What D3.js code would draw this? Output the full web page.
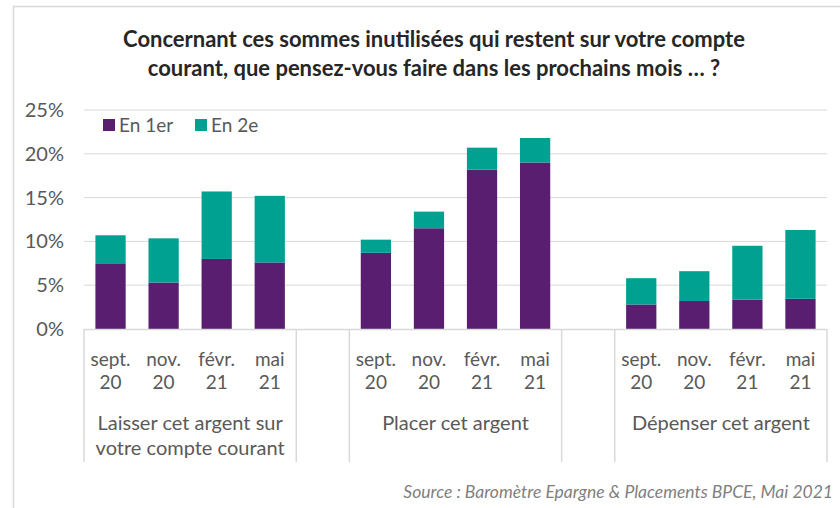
<!DOCTYPE html>
<html lang="fr">
<head>
  <meta charset="UTF-8">
  <title>Sommes inutilisées</title>
  <script src="https://cdn.jsdelivr.net/npm/d3@7/dist/d3.min.js"></script>
  <style>
    body { margin: 0; background: #fff; }
    text { font-family: Lato, "Open Sans", sans-serif; }
  </style>
</head>
<body>
  <svg id="chart" width="840" height="508"></svg>
  <script>
    // données
    const groups = ['Laisser cet argent sur|votre compte courant', 'Placer cet argent', 'Dépenser cet argent'];
    const months = ['sept.|20', 'nov.|20', 'févr.|21', 'mai|21'];
    const series = ['En 1er', 'En 2e'];
    const en1er = [
      [7.5, 5.3, 8.0, 7.6],
      [8.7, 11.5, 18.2, 19.0],
      [2.8, 3.2, 3.35, 3.45]
    ];
    const en2e = [
      [3.2, 5.05, 7.7, 7.6],
      [1.5, 1.9, 2.5, 2.8],
      [3.0, 3.4, 6.15, 7.85]
    ];
    const yTicks = [0, 5, 10, 15, 20, 25];
    const colors = ['#5a1e71', '#00a191'];

    const svg = d3.select('#chart');
    const plotLeft = 84, plotRight = 827, plotTop = 110, plotBottom = 329;

    // cadre
    svg.append('path')
      .attr('d', `M13.5 508 L13.5 6.5 L840 6.5`)
      .attr('fill', 'none')
      .attr('stroke', '#d9d9d9')
      .attr('stroke-width', 1.5);

    // titre
    const title = svg.append('text')
      .attr('text-anchor', 'middle')
      .attr('font-weight', 'bold')
      .attr('font-size', '22px')
      .attr('fill', '#262626');
    title.append('tspan').attr('x', 434).attr('y', 47)
      .text('Concernant ces sommes inutilisées qui restent sur votre compte');
    title.append('tspan').attr('x', 434).attr('y', 76)
      .text('courant, que pensez-vous faire dans les prochains mois … ?');

    // slots: 4 mois, vide, 4 mois, vide, 4 mois
    const slots = [];
    groups.forEach((g, gi) => {
      months.forEach((m, mi) => slots.push(`${gi}-${mi}`));
      if (gi < groups.length - 1) slots.push(`gap${gi}`);
    });

    const x = d3.scaleBand().domain(slots).range([plotLeft, plotRight]).padding(0);
    const y = d3.scaleLinear().domain([0, 25]).range([plotBottom, plotTop]);
    const barW = x.bandwidth() * 0.57;

    // grille
    svg.append('g')
      .selectAll('line')
      .data(yTicks.slice(1))
      .enter()
      .append('line')
      .attr('x1', plotLeft).attr('x2', plotRight)
      .attr('y1', d => y(d)).attr('y2', d => y(d))
      .attr('stroke', '#d9d9d9')
      .attr('stroke-width', 1);

    // axe y
    svg.append('g')
      .selectAll('text')
      .data(yTicks)
      .enter()
      .append('text')
      .attr('x', 64)
      .attr('y', d => y(d) + 7)
      .attr('text-anchor', 'end')
      .attr('font-size', '20px')
      .attr('fill', '#595959')
      .text(d => d + '%');

    // barres empilées
    const rows = [];
    groups.forEach((g, gi) => {
      months.forEach((m, mi) => {
        rows.push({ key: `${gi}-${mi}`, a: en1er[gi][mi], b: en2e[gi][mi] });
      });
    });
    const stack = d3.stack().keys(['a', 'b'])(rows);

    svg.append('g')
      .selectAll('g')
      .data(stack)
      .enter()
      .append('g')
      .attr('fill', (d, i) => colors[i])
      .selectAll('rect')
      .data(d => d)
      .enter()
      .append('rect')
      .attr('x', d => x(d.data.key) + (x.bandwidth() - barW) / 2)
      .attr('width', barW)
      .attr('y', d => y(d[1]))
      .attr('height', d => y(d[0]) - y(d[1]));

    // axe x multi-niveaux
    const axis = svg.append('g');
    axis.append('line')
      .attr('x1', plotLeft).attr('x2', plotRight)
      .attr('y1', plotBottom + 0.5).attr('y2', plotBottom + 0.5)
      .attr('stroke', '#d9d9d9').attr('stroke-width', 1.5);

    const seps = [plotLeft];
    groups.forEach((g, gi) => {
      if (gi < groups.length - 1) {
        seps.push(x(`gap${gi}`));
        seps.push(x(`gap${gi}`) + x.bandwidth());
      }
    });
    seps.push(plotRight);
    axis.selectAll('.sep')
      .data(seps)
      .enter()
      .append('line')
      .attr('class', 'sep')
      .attr('x1', d => d).attr('x2', d => d)
      .attr('y1', plotBottom).attr('y2', 462)
      .attr('stroke', '#d9d9d9').attr('stroke-width', 1.5);

    rows.forEach(r => {
      const mi = +r.key.split('-')[1];
      const parts = months[mi].split('|');
      const t = axis.append('text')
        .attr('text-anchor', 'middle')
        .attr('font-size', '19px')
        .attr('fill', '#595959');
      parts.forEach((p, i) => {
        t.append('tspan')
          .attr('x', x(r.key) + x.bandwidth() / 2)
          .attr('y', 366 + i * 23)
          .text(p);
      });
    });

    groups.forEach((g, gi) => {
      const cx = (x(`${gi}-0`) + x(`${gi}-3`) + x.bandwidth()) / 2;
      const t = axis.append('text')
        .attr('text-anchor', 'middle')
        .attr('font-size', '20px')
        .attr('fill', '#595959');
      g.split('|').forEach((p, i) => {
        t.append('tspan').attr('x', cx).attr('y', 430 + i * 25).text(p);
      });
    });

    // légende
    const legend = svg.append('g');
    legend.append('rect')
      .attr('x', plotLeft).attr('y', 112).attr('width', 188).attr('height', 28)
      .attr('fill', '#fff');
    series.forEach((s, i) => {
      const lx = [103, 195][i];
      legend.append('rect')
        .attr('x', lx).attr('y', 119).attr('width', 12).attr('height', 12)
        .attr('fill', colors[i]);
      legend.append('text')
        .attr('x', lx + 16).attr('y', 132)
        .attr('font-size', '19px')
        .attr('fill', '#595959')
        .text(s);
    });

    // source
    svg.append('text')
      .attr('x', 833).attr('y', 498)
      .attr('text-anchor', 'end')
      .attr('font-size', '17.5px')
      .attr('font-style', 'italic')
      .attr('fill', '#7f7f7f')
      .text('Source : Baromètre Epargne & Placements BPCE, Mai 2021');
  </script>
</body>
</html>
